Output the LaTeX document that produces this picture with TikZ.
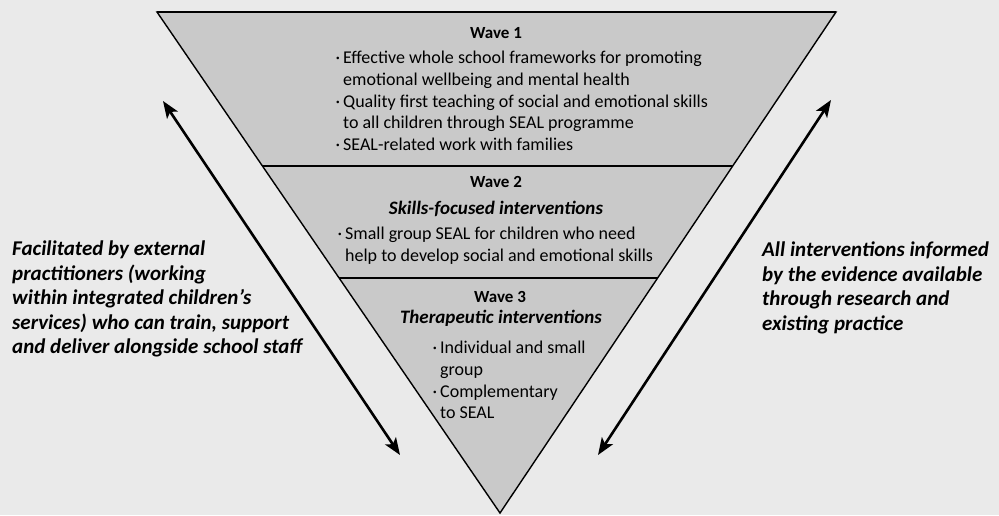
\documentclass[tikz,border=0pt]{standalone}
\usepackage{fontspec}
\setmainfont{Carlito}
\usetikzlibrary{arrows.meta}
\definecolor{paper}{RGB}{234,234,234}
\definecolor{wavegray}{RGB}{201,201,201}

\tikzset{
    head/.style={font=\fontsize{17}{21}\selectfont\bfseries},
    sub/.style={font=\fontsize{19}{21}\selectfont\bfseries\itshape},
    list/.style={font=\fontsize{18}{21.8}\selectfont, align=left, anchor=west, inner sep=0pt},
    side/.style={font=\fontsize{21}{24.5}\selectfont\bfseries\itshape, align=left, anchor=west, inner sep=0pt},
    updown/.style={line width=2.6pt, {Stealth[length=17pt,width=13pt,inset=4pt]}-{Stealth[length=17pt,width=13pt,inset=4pt]}}
}
\newcommand{\dotitem}{\llap{·\,}}

\begin{document}
\begin{tikzpicture}[x=1pt, y=-1pt]
    \fill[paper] (0,0) rectangle (999,515);
    \useasboundingbox (0,0) rectangle (999,515);

    \coordinate (tl) at (157,12);
    \coordinate (tr) at (836,12);
    \coordinate (tip) at (500,513);
    \coordinate (a1l) at (262.4,166);
    \coordinate (a1r) at (732.7,166);
    \coordinate (a2l) at (339.1,278);
    \coordinate (a2r) at (657.6,278);

    \filldraw[fill=wavegray, line width=1.4pt] (tl) -- (tr) -- (tip) -- cycle;
    \draw[line width=2.6pt] (tl) -- (tr)
          (a1l) -- (a1r)
          (a2l) -- (a2r);

    % wave 1
    \node[head] (w1) at (496,33) {Wave 1};
    \node[list] (w1list) at (343,101) {\dotitem Effective whole school frameworks for promoting\\
        emotional wellbeing and mental health\\
        \dotitem Quality first teaching of social and emotional skills\\
        to all children through SEAL programme\\
        \dotitem SEAL-related work with families};

    % wave 2
    \node[head] (w2) at (496,182) {Wave 2};
    \node[sub] (w2sub) at (496,209) {Skills-focused interventions};
    \node[list] (w2list) at (345,246) {\dotitem Small group SEAL for children who need\\
        help to develop social and emotional skills};

    % wave 3
    \node[head] (w3) at (500,297) {Wave 3};
    \node[sub] (w3sub) at (501,318) {Therapeutic interventions};
    \node[list] (w3list) at (440,380) {\dotitem Individual and small\\
        group\\
        \dotitem Complementary\\
        to SEAL};

    \node[side] (leftnote) at (12,299) {Facilitated by external\\
        practitioners (working\\
        within integrated children’s\\
        services) who can train, support\\
        and deliver alongside school staff};
    \node[side] (rightnote) at (762,288) {All interventions informed\\
        by the evidence available\\
        through research and\\
        existing practice};

    \coordinate (lup) at (163,101);
    \coordinate (ldown) at (400,455);
    \coordinate (rup) at (831,100);
    \coordinate (rdown) at (598,455);
    \draw[updown] (lup) -- (ldown);
    \draw[updown] (rup) -- (rdown);
\end{tikzpicture}
\end{document}
